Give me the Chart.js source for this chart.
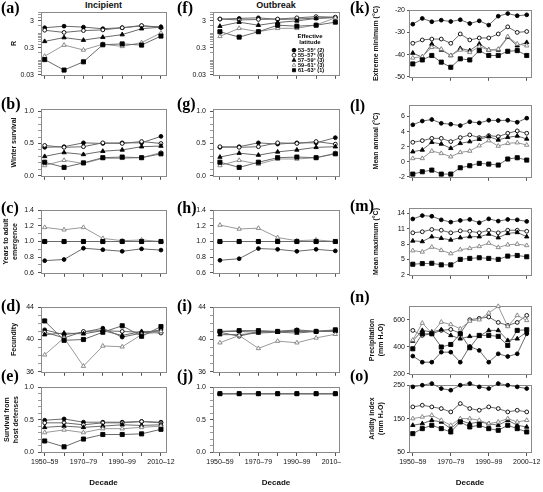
<!DOCTYPE html>
<html>
<head>
<meta charset="utf-8">
<script src="https://cdn.jsdelivr.net/npm/chart.js@4.4.0/dist/chart.umd.min.js"></script>
<style>
body { margin: 0; width: 543px; height: 492px; background: #fff; position: relative; overflow: hidden; font-family: "Liberation Sans", Arial, sans-serif; }
canvas { position: absolute; }
.lab { position: absolute; font-family: "Liberation Serif", "Times New Roman", serif; font-weight: bold; font-size: 16px; line-height: 16px; color: #000; }
.head { position: absolute; top: 0; font-size: 9px; line-height: 10px; font-weight: bold; text-align: center; color: #111; }
</style>
</head>
<body>
<div class="head" style="left:41px;width:125px;">Incipient</div>
<div class="head" style="left:213px;width:126px;">Outbreak</div>
<script>
// Categories
const decades = ['1950–59', '1960–69', '1970–79', '1980–89', '1990–99', '2000–09', '2010–12'];
const climatePeriods = ['1950–54', '1955–59', '1960–64', '1965–69', '1970–74', '1975–79', '1980–84',
    '1985–89', '1990–94', '1995–99', '2000–04', '2005–09', '2010–12'];
const climateTickIndex = [0, 4, 8, 12];
const climateTickLabels = ['1950–59', '1970–79', '1990–99', '2000–12'];
const bands = ['53–55° (2)', '55–57° (6)', '57–59° (3)', '59–61° (3)', '61–63° (1)'];

// Series values, one row per latitude band
const rIncipient = [
    [1.67, 1.91, 1.76, 1.54, 1.67, 1.95, 1.80],
    [1.35, 1.12, 1.31, 1.39, 1.67, 2.02, 1.67],
    [0.52, 0.72, 0.58, 0.74, 0.93, 1.54, 1.76],
    [0.147, 0.38, 0.25, 0.41, 0.34, 0.47, 1.07],
    [0.11, 0.045, 0.091, 0.39, 0.42, 0.38, 0.82]
];
const rOutbreak = [
    [3.5, 3.7, 3.9, 3.4, 3.5, 3.8, 4.1],
    [3.52, 3.24, 3.39, 3.52, 3.9, 4.32, 4.1],
    [1.91, 2.69, 2.07, 2.62, 3.0, 3.69, 3.99],
    [0.80, 1.59, 1.19, 1.59, 1.59, 2.12, 3.9],
    [1.19, 0.75, 1.19, 2.07, 1.91, 2.07, 2.69]
];
const winterIncipient = [
    [0.44, 0.45, 0.51, 0.50, 0.51, 0.51, 0.61],
    [0.47, 0.44, 0.45, 0.51, 0.50, 0.53, 0.50],
    [0.30, 0.36, 0.33, 0.38, 0.40, 0.45, 0.46],
    [0.16, 0.24, 0.19, 0.27, 0.27, 0.28, 0.36],
    [0.21, 0.13, 0.20, 0.28, 0.29, 0.28, 0.34]
];
const winterOutbreak = [
    [0.44, 0.45, 0.51, 0.49, 0.51, 0.51, 0.59],
    [0.45, 0.44, 0.45, 0.51, 0.50, 0.53, 0.49],
    [0.29, 0.35, 0.32, 0.37, 0.40, 0.44, 0.45],
    [0.16, 0.24, 0.18, 0.26, 0.26, 0.28, 0.35],
    [0.21, 0.13, 0.21, 0.28, 0.29, 0.28, 0.34]
];
const yearsIncipient = [
    [0.755, 0.77, 0.914, 0.895, 0.875, 0.906, 0.89],
    [1, 1, 1, 1, 1, 1, 1],
    [1, 1, 1, 1, 1, 1, 1],
    [1.18, 1.15, 1.18, 1.04, 1.01, 1.02, 1.0],
    [1, 1, 1, 1, 1, 1, 1]
];
const yearsOutbreak = [
    [0.76, 0.78, 0.91, 0.90, 0.875, 0.90, 0.88],
    [1, 1, 1, 1, 1, 1, 1],
    [1, 1, 1, 1, 1, 1, 1],
    [1.21, 1.16, 1.17, 1.05, 1.01, 1.02, 1.0],
    [1, 1, 1, 1, 1, 1, 1]
];
const fecundityIncipient = [
    [41.2, 40.6, 40.9, 41.4, 40.3, 40.8, 41.2],
    [40.9, 40.2, 41.0, 41.1, 41.0, 40.9, 40.8],
    [40.6, 40.8, 40.7, 41.1, 40.5, 41.0, 41.0],
    [38.1, 40.2, 36.7, 39.2, 39.1, 40.6, 41.0],
    [42.3, 39.9, 40.0, 40.9, 41.7, 40.4, 41.6]
];
const fecundityOutbreak = [
    [41.0, 41.0, 40.9, 41.0, 41.2, 41.0, 41.1],
    [40.9, 40.4, 41.0, 41.0, 41.0, 41.0, 41.1],
    [40.6, 40.6, 40.8, 40.9, 40.8, 41.0, 41.0],
    [39.6, 40.5, 38.9, 39.8, 39.6, 40.2, 40.65],
    [41.0, 41.1, 41.1, 41.0, 41.1, 41.0, 41.2]
];
const defenseIncipient = [
    [0.49, 0.51, 0.46, 0.46, 0.46, 0.47, 0.46],
    [0.45, 0.45, 0.42, 0.45, 0.45, 0.47, 0.45],
    [0.38, 0.40, 0.38, 0.40, 0.42, 0.41, 0.42],
    [0.30, 0.34, 0.30, 0.36, 0.36, 0.38, 0.40],
    [0.17, 0.08, 0.20, 0.27, 0.27, 0.28, 0.35]
];
const defenseOutbreak = [
    [0.9, 0.9, 0.9, 0.9, 0.9, 0.9, 0.9],
    [0.9, 0.9, 0.9, 0.9, 0.9, 0.9, 0.9],
    [0.9, 0.9, 0.9, 0.9, 0.9, 0.9, 0.9],
    [0.9, 0.9, 0.9, 0.9, 0.9, 0.9, 0.9],
    [0.9, 0.9, 0.9, 0.9, 0.9, 0.9, 0.9]
];
const extremeMin = [
    [-26.3, -23.7, -25.2, -24.5, -25.1, -24.3, -26.0, -24.8, -26.7, -22.7, -21.5, -22.5, -22.1],
    [-34.9, -33.4, -33.0, -33.0, -34.9, -30.7, -33.4, -32.5, -32.5, -30.7, -27.5, -30.0, -29.6],
    [-39.3, -41.2, -35.2, -37.9, -40.4, -37.2, -38.2, -35.2, -37.9, -37.9, -32.2, -36.0, -34.5],
    [-41.5, -40.9, -36.7, -37.5, -40.4, -37.9, -39.0, -36.4, -37.9, -37.5, -31.9, -35.2, -36.0],
    [-44.2, -42.4, -40.4, -43.4, -45.7, -41.9, -42.4, -38.2, -40.4, -40.4, -38.5, -38.2, -40.4]
];
const meanAnnual = [
    [4.9, 5.4, 5.6, 5.1, 4.98, 4.8, 5.3, 5.15, 5.5, 5.47, 5.5, 5.24, 5.78],
    [2.58, 2.8, 3.1, 3.1, 2.67, 3.2, 3.56, 3.2, 3.47, 3.33, 3.78, 4.09, 3.78],
    [1.33, 1.56, 2.58, 2.36, 1.78, 2.44, 2.67, 2.98, 3.33, 2.89, 3.24, 3.42, 3.02],
    [0.44, 0.44, 1.42, 1.11, 0.67, 1.24, 1.42, 2.13, 2.8, 2.09, 2.44, 2.53, 2.22],
    [-1.64, -1.33, -1.11, -1.64, -1.64, -0.8, -0.53, -0.22, -0.31, -0.44, 0.36, 0.53, 0.22]
];
const meanMax = [
    [12.9, 13.56, 13.43, 12.73, 12.29, 12.61, 12.8, 12.16, 12.92, 12.48, 12.8, 12.73, 12.42],
    [10.2, 10.4, 10.84, 10.7, 10.2, 10.58, 10.5, 10.2, 10.7, 10.2, 10.7, 10.7, 10.5],
    [8.62, 8.5, 9.44, 9.13, 8.81, 9.25, 9.44, 9.44, 9.95, 9.25, 10.08, 10.27, 9.44],
    [6.72, 6.47, 7.42, 6.78, 6.15, 6.91, 7.16, 7.54, 8.18, 7.35, 7.86, 7.99, 7.73],
    [4.06, 4.19, 4.25, 3.94, 3.94, 5.01, 5.2, 5.33, 5.2, 5.01, 5.65, 5.77, 5.52]
];
const precipitation = [
    [331, 286, 286, 360, 360, 286, 402, 373, 286, 348, 328, 348, 496],
    [521, 484, 496, 521, 528, 500, 600, 610, 620, 580, 558, 580, 632],
    [442, 521, 509, 526, 484, 459, 477, 477, 521, 521, 447, 459, 509],
    [450, 575, 500, 583, 565, 533, 590, 600, 650, 699, 550, 632, 595],
    [385, 496, 496, 398, 417, 496, 393, 484, 484, 477, 410, 521, 526]
];
const aridity = [
    [245, 250, 255, 240, 235, 250, 255, 245, 240, 255, 250, 245, 240],
    [185, 190, 185, 180, 170, 195, 180, 175, 185, 180, 170, 175, 170],
    [130, 135, 145, 140, 120, 145, 135, 140, 135, 130, 145, 130, 125],
    [150, 155, 160, 145, 130, 150, 150, 145, 135, 140, 150, 140, 145],
    [105, 120, 130, 120, 110, 140, 125, 130, 120, 115, 130, 120, 110]
];

// Tick labels on the value axes
const rTicks = [0.03, 0.3, 3];
const survivalTicks = [0, 0.5, 1.0];
const yearsTicks = [0.6, 0.8, 1.0, 1.2, 1.4];
const fecundityTicks = [36, 40, 44];
const extremeTicks = [-50, -40, -30, -20];
const annualTicks = [-2, 0, 2, 4, 6];
const maxTicks = [2, 5, 8, 11, 14];
const precipTicks = [200, 400, 600];
const aridityTicks = [50, 150, 250];

// Marker look per latitude band
const marks = [
    { style: 'circle', r: 1.9, fill: '#000', stroke: '#000', line: '#6a6a6a' },
    { style: 'circle', r: 1.9, fill: '#fff', stroke: '#000', line: '#6a6a6a' },
    { style: 'triangle', r: 2.5, fill: '#000', stroke: '#000', line: '#6a6a6a' },
    { style: 'triangle', r: 2.5, fill: '#fff', stroke: '#808080', line: '#9a9a9a' },
    { style: 'rect', r: 2.9, fill: '#000', stroke: '#000', line: '#6a6a6a' }
];

// Page geometry of the three columns and five rows
const cols = [
    { L: 41, R: 166, padL: 41, padR: 14, xmin: -0.19, xmax: 6.26, yTick: 3, yPad: 4 },
    { L: 213, R: 339, padL: 30, padR: 20, xmin: -0.36, xmax: 6.19, yTick: 3, yPad: 4 },
    { L: 409, R: 531, padL: 68, padR: 14, xmin: -0.4, xmax: 12.45, yTick: 2, yPad: 2 }
];
const rowTop = [10, 107, 208, 305, 385];
const rowBottom = [77, 178, 275, 374, 452];

function linearTicks(min, max, step) {
    const out = [];
    for (let v = min; v <= max + 1e-9; v += step) out.push(+v.toFixed(4));
    return out;
}
function logTicks(min, max) {
    const out = [];
    [0.01, 0.1, 1].forEach(d => {
        for (let m = 1; m <= 9; m++) {
            const v = +(d * m).toPrecision(6);
            if (v >= min - 1e-9 && v <= max) out.push(v);
        }
    });
    return out;
}

const fmt1 = v => v.toFixed(1);
const fmt0 = v => String(v);

const panels = [
    { tag: '(a)', col: 0, row: 0, data: rIncipient, title: 'R', titlePad: 10, type: 'logarithmic', min: 0.03, max: 6.3, major: rTicks, all: logTicks(0.03, 6.3), fmt: fmt0, labY: 0 },
    { tag: '(b)', col: 0, row: 1, data: winterIncipient, title: 'Winter survival', titlePad: 10, min: 0, max: 1.03, major: survivalTicks, all: linearTicks(0, 1, 0.1), fmt: fmt1, labY: 96 },
    { tag: '(c)', col: 0, row: 2, data: yearsIncipient, title: ['Years to adult', 'emergence'], titlePad: 2, min: 0.6, max: 1.4, major: yearsTicks, all: linearTicks(0.6, 1.4, 0.1), fmt: fmt1, labY: 200 },
    { tag: '(d)', col: 0, row: 3, data: fecundityIncipient, title: 'Fecundity', titlePad: 10, min: 36, max: 44, major: fecundityTicks, all: linearTicks(36, 44, 1), fmt: fmt0, labY: 298 },
    { tag: '(e)', col: 0, row: 4, data: defenseIncipient, title: ['Survival from', 'host defenses'], titlePad: 3, min: 0, max: 1.0, major: survivalTicks, all: linearTicks(0, 1, 0.1), fmt: fmt1, labY: 368 },
    { tag: '(f)', col: 1, row: 0, data: rOutbreak, type: 'logarithmic', min: 0.03, max: 6.3, major: rTicks, all: logTicks(0.03, 6.3), fmt: fmt0, legend: true, labY: 0 },
    { tag: '(g)', col: 1, row: 1, data: winterOutbreak, min: 0, max: 1.03, major: survivalTicks, all: linearTicks(0, 1, 0.1), fmt: fmt1, labY: 96 },
    { tag: '(h)', col: 1, row: 2, data: yearsOutbreak, min: 0.6, max: 1.4, major: yearsTicks, all: linearTicks(0.6, 1.4, 0.1), fmt: fmt1, labY: 200 },
    { tag: '(i)', col: 1, row: 3, data: fecundityOutbreak, min: 36, max: 44, major: fecundityTicks, all: linearTicks(36, 44, 1), fmt: fmt0, labY: 298 },
    { tag: '(j)', col: 1, row: 4, data: defenseOutbreak, min: 0, max: 1.0, major: survivalTicks, all: linearTicks(0, 1, 0.1), fmt: fmt1, labY: 368 },
    { tag: '(k)', col: 2, row: 0, data: extremeMin, title: 'Extreme minimum (°C)', titlePad: 31, min: -50, max: -20, major: extremeTicks, all: extremeTicks, fmt: fmt0, labY: 0 },
    { tag: '(l)', col: 2, row: 1, top: 105, bottom: 177, data: meanAnnual, title: 'Mean annual (°C)', titlePad: 31, min: -2, max: 7.5, major: annualTicks, all: annualTicks, fmt: fmt0, labY: 98 },
    { tag: '(m)', col: 2, row: 2, data: meanMax, title: 'Mean maximum (°C)', titlePad: 31, min: 2, max: 15, major: maxTicks, all: maxTicks, fmt: fmt0, labY: 198 },
    { tag: '(n)', col: 2, row: 3, top: 306, data: precipitation, title: ['Precipitation', '(mm H₂O)'], titlePad: 27, min: 200, max: 700, major: precipTicks, all: precipTicks, fmt: fmt0, labY: 289 },
    { tag: '(o)', col: 2, row: 4, data: aridity, title: ['Aridity index', '(mm H₂O)'], titlePad: 27, min: 50, max: 250, major: aridityTicks, all: aridityTicks, fmt: fmt0, labY: 368 }
];

// Box round each plot area
const framePlugin = {
    id: 'frame',
    beforeDatasetsDraw(chart) {
        const a = chart.chartArea, ctx = chart.ctx;
        ctx.save();
        ctx.strokeStyle = '#8a8a8a';
        ctx.lineWidth = 1;
        ctx.strokeRect(Math.round(a.left) + 0.5, Math.round(a.top) + 0.5, Math.round(a.right - a.left), Math.round(a.bottom - a.top));
        ctx.restore();
    }
};

// White paper behind the climate column
const paperPlugin = {
    id: 'paper',
    beforeDraw(chart, args, opts) {
        if (!opts.show) return;
        const ctx = chart.ctx;
        ctx.save();
        ctx.fillStyle = '#fff';
        ctx.fillRect(0, 0, chart.width, chart.height);
        ctx.restore();
    }
};

// Latitude legend drawn inside panel (f)
const legendPlugin = {
    id: 'bandLegend',
    afterDatasetsDraw(chart, args, opts) {
        if (!opts.show) return;
        const a = chart.chartArea, ctx = chart.ctx;
        const cx = a.right - 29, mx = a.right - 45, tx = a.right - 41;
        ctx.save();
        ctx.fillStyle = '#000';
        ctx.font = 'bold 6px "Liberation Sans", Arial, sans-serif';
        ctx.textAlign = 'center';
        ctx.textBaseline = 'middle';
        ctx.fillText('Effective', cx, a.top + 24);
        ctx.fillText('latitude', cx, a.top + 30.5);
        ctx.font = 'bold 5.6px "Liberation Sans", Arial, sans-serif';
        ctx.textAlign = 'left';
        chart.data.datasets.forEach((ds, i) => {
            const y = a.top + 38 + i * 5;
            ctx.fillStyle = ds.pointBackgroundColor;
            ctx.strokeStyle = ds.pointBorderColor;
            ctx.lineWidth = 0.8;
            if (Chart.helpers && Chart.helpers.drawPoint) {
                Chart.helpers.drawPoint(ctx, { pointStyle: ds.pointStyle, radius: Math.min(ds.pointRadius, 2.2), borderWidth: 0.8, rotation: 0 }, mx, y);
            }
            ctx.fillStyle = '#000';
            ctx.fillText(ds.label, tx, y + 0.3);
        });
        ctx.restore();
    }
};

Chart.defaults.font.family = '"Liberation Sans", Arial, sans-serif';

function makePanel(p) {
    const c = cols[p.col];
    const T = p.top ?? rowTop[p.row];
    const B = p.bottom ?? rowBottom[p.row];
    const isBottom = p.row === 4;
    const padT = 6, padB = isBottom ? 40 : 6;
    const w = c.R - c.L + c.padL + c.padR, h = B - T + padT + padB;

    const canvas = document.createElement('canvas');
    canvas.width = w;
    canvas.height = h;
    canvas.style.left = (c.L - c.padL) + 'px';
    canvas.style.top = (T - padT) + 'px';
    canvas.style.width = w + 'px';
    canvas.style.height = h + 'px';
    document.body.appendChild(canvas);

    const majors = new Set(p.major);
    const xTicks = p.col === 2 ? climateTickIndex : decades.map((d, i) => i);
    const xLabel = v => {
        if (p.col === 2) return climateTickLabels[climateTickIndex.indexOf(v)];
        return v % 2 === 0 ? decades[v] : '';
    };

    // later bands are drawn over earlier ones
    const datasets = bands.map((b, i) => ({
        label: b,
        data: p.data[i].map((v, j) => ({ x: j, y: v })),
        order: bands.length - i,
        borderColor: marks[i].line,
        borderWidth: 1,
        pointStyle: marks[i].style,
        pointRadius: marks[i].r,
        pointBackgroundColor: marks[i].fill,
        pointBorderColor: marks[i].stroke,
        pointBorderWidth: 0.9,
        tension: 0,
        clip: false
    }));

    new Chart(canvas, {
        type: 'line',
        data: { datasets },
        plugins: [paperPlugin, framePlugin, legendPlugin],
        options: {
            responsive: false,
            animation: false,
            devicePixelRatio: 1,
            layout: { padding: { top: padT, right: c.padR, left: 0, bottom: 0 } },
            plugins: {
                legend: { display: false },
                tooltip: { enabled: false },
                bandLegend: { show: !!p.legend },
                paper: { show: p.col === 2 }
            },
            scales: {
                x: {
                    type: 'linear',
                    min: c.xmin,
                    max: c.xmax,
                    afterBuildTicks: s => { s.ticks = xTicks.map(v => ({ value: v })); },
                    afterFit: s => { s.height = padB; },
                    grid: { display: true, drawOnChartArea: false, drawTicks: true, tickLength: 4, tickColor: '#555' },
                    border: { display: false },
                    ticks: { display: isBottom, autoSkip: false, maxRotation: 0, padding: 2, color: '#111', font: { size: 7 }, callback: xLabel },
                    title: { display: isBottom, text: 'Decade', color: '#111', font: { size: 8, weight: 'bold' }, padding: { top: 0, bottom: 4 } }
                },
                y: {
                    type: p.type || 'linear',
                    min: p.min,
                    max: p.max,
                    afterBuildTicks: s => { s.ticks = p.all.map(v => ({ value: v })); },
                    afterFit: s => { s.width = c.padL; },
                    grid: {
                        display: true, drawOnChartArea: false, drawTicks: true, tickLength: c.yTick, tickColor: '#555',
                        tickWidth: ctx => (ctx.tick && majors.has(ctx.tick.value)) ? 1 : 0.6
                    },
                    border: { display: false },
                    ticks: { autoSkip: false, padding: c.yPad, color: '#111', font: { size: 7 }, callback: v => majors.has(v) ? p.fmt(v) : '' },
                    title: { display: !!p.title, text: p.title || '', color: '#111', font: { size: 7, weight: 'bold' }, padding: { top: p.titlePad || 0, bottom: 0 } }
                }
            }
        }
    });
}

panels.forEach(makePanel);

// Panel letters on top of the charts
const labX = [1, 177, 350];
panels.forEach(p => {
    const d = document.createElement('div');
    d.className = 'lab';
    d.textContent = p.tag;
    d.style.left = labX[p.col] + 'px';
    d.style.top = p.labY + 'px';
    document.body.appendChild(d);
});
</script>
</body>
</html>
